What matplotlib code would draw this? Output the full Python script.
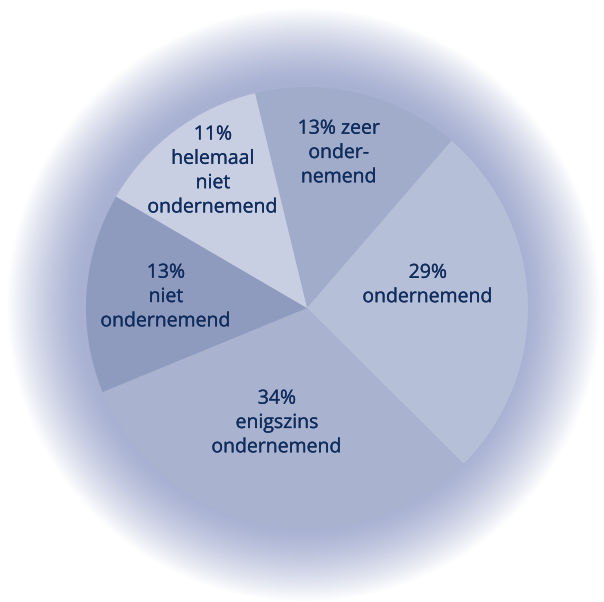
import numpy as np
import matplotlib.pyplot as plt
import matplotlib.patheffects as pe

# slice sizes (degrees -> share), and the printed labels
shares = [15.1, 26.1, 31.3, 14.6, 12.8]
labels = ["13% zeer\nonder-\nnemend",
          "29%\nondernemend",
          "34%\nenigszins\nondernemend",
          "13%\nniet\nondernemend",
          "11%\nhelemaal\nniet\nondernemend"]
colors = ["#a1abca", "#b6bfd8", "#a9b3cf", "#8e9abe", "#c9cfe3"]
label_pos = [(339, 153), (428, 285), (277, 423), (166, 297), (213, 171)]

W, H = 604, 602
cx, cy, r_pie = 307, H - 308, 221
r_out = 297

fig = plt.figure(figsize=(W / 100, H / 100), dpi=100)
ax = fig.add_axes([0, 0, 1, 1])

# radial glow around the pie
xx, yy = np.meshgrid(np.arange(W) + 0.5, np.arange(H) + 0.5)
rr = np.hypot(xx - 304, yy - (H - 305))
t = np.clip((rr - r_pie) / (r_out - r_pie), 0, 1) ** 1.4
base = np.array([168, 177, 210]) / 255
img = base[None, None, :] * (1 - t[..., None]) + t[..., None]
ax.imshow(img, extent=[0, W, 0, H], origin="lower", zorder=0)

ax.pie(shares, colors=colors, startangle=103.6, counterclock=False,
       center=(cx, cy), radius=r_pie, frame=True,
       wedgeprops=dict(linewidth=0))
ax.set_xlim(0, W)
ax.set_ylim(0, H)
ax.set_aspect("equal")
ax.axis("off")

for lab, (lx, ly) in zip(labels, label_pos):
    ax.text(lx, H - ly, lab, ha="center", va="center", fontsize=14,
            family="Open Sans", color="#102c5c", linespacing=1.45,
            path_effects=[pe.withStroke(linewidth=0.2, foreground="#102c5c")])

fig.savefig("out.png", dpi=100)
